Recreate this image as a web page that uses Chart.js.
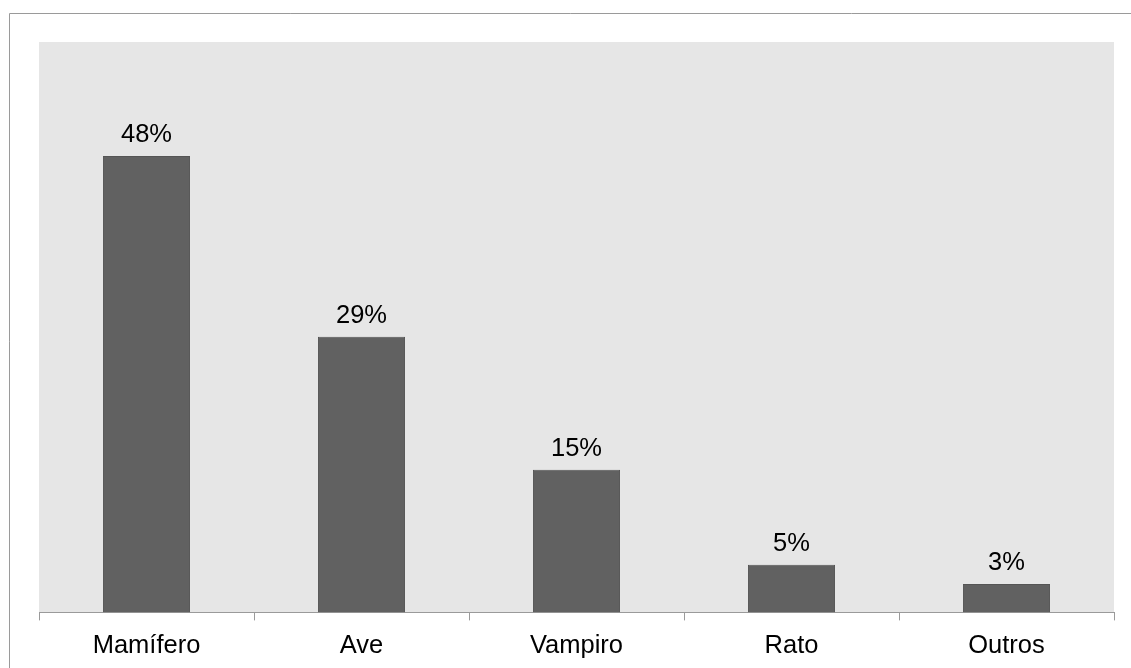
<!DOCTYPE html>
<html>
<head>
<meta charset="utf-8">
<script src="https://cdn.jsdelivr.net/npm/chart.js@4/dist/chart.umd.min.js"></script>
<style>
html,body{margin:0;padding:0;background:#fff;overflow:hidden;}
#wrap{position:relative;width:1131px;height:668px;overflow:hidden;}
</style>
</head>
<body>
<div id="wrap"><canvas id="c" width="1131" height="668"></canvas></div>
<script>
const categories = ["Mamífero", "Ave", "Vampiro", "Rato", "Outros"];
const values = [48, 29, 15, 5, 3];
const valueLabels = ["48%", "29%", "15%", "5%", "3%"];

const FONT = "'Liberation Sans', Arial, sans-serif";

const decor = {
  id: 'decor',
  beforeDraw(chart) {
    const ctx = chart.ctx, a = chart.chartArea;
    ctx.save();
    ctx.fillStyle = '#fff';
    ctx.fillRect(0, 0, chart.width, chart.height);
    ctx.strokeStyle = '#9a9a9a';
    ctx.lineWidth = 1;
    ctx.beginPath();
    ctx.moveTo(9.5, chart.height + 2);
    ctx.lineTo(9.5, 13.5);
    ctx.lineTo(chart.width + 2, 13.5);
    ctx.stroke();
    ctx.fillStyle = '#e6e6e6';
    ctx.fillRect(a.left, a.top, a.right - a.left, a.bottom - a.top);
    ctx.restore();
  },
  afterDatasetsDraw(chart) {
    const ctx = chart.ctx;
    const meta = chart.getDatasetMeta(0);
    ctx.save();
    ctx.fillStyle = '#000';
    ctx.font = '25.5px ' + FONT;
    ctx.textAlign = 'center';
    ctx.textBaseline = 'alphabetic';
    meta.data.forEach((bar, i) => {
      ctx.fillText(valueLabels[i], bar.x, bar.y - 14);
    });
    ctx.restore();
  }
};

new Chart(document.getElementById('c'), {
  type: 'bar',
  data: {
    labels: categories,
    datasets: [{
      data: values,
      backgroundColor: '#616161',
      borderColor: '#555555',
      borderWidth: 1,
      categoryPercentage: 1,
      barPercentage: 0.405
    }]
  },
  options: {
    responsive: false,
    animation: false,
    devicePixelRatio: 1,
    layout: { padding: { left: 39, right: 17, top: 42, bottom: -3 } },
    plugins: { legend: { display: false }, tooltip: { enabled: false } },
    scales: {
      y: { display: false, min: 0, max: 60 },
      x: {
        grid: { display: true, drawOnChartArea: false, offset: true, tickLength: 8, color: '#9a9a9a' },
        border: { display: true, color: '#9a9a9a' },
        ticks: { color: '#000', font: { family: FONT, size: 25.5 }, padding: 10, maxRotation: 0 }
      }
    }
  },
  plugins: [decor]
});
</script>
</body>
</html>
